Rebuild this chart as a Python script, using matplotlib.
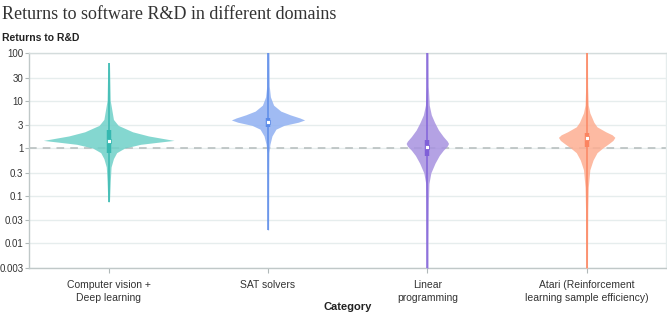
import matplotlib.pyplot as plt
import numpy as np

categories = ["Computer vision +\nDeep learning", "SAT solvers",
              "Linear\nprogramming", "Atari (Reinforcement\nlearning sample efficiency)"]
fill_colors = ["#6fd0c8", "#8fb0f2", "#a792e0", "#fdae92"]
line_colors = ["#36b8b0", "#5a8ae8", "#8060d8", "#fb8460"]

# violin outlines: returns value -> half width (category units)
cv_y = [63, 10, 4, 3, 2.2, 1.8, 1.55, 1.45, 1.35, 1.2, 1.0, 0.8, 0.6, 0.4, 0.2, 0.074]
cv_w = [0.005, 0.01, 0.03, 0.06, 0.15, 0.25, 0.36, 0.41, 0.33, 0.2, 0.1, 0.05, 0.03, 0.015, 0.01, 0.005]
sat_y = [150, 20, 12, 8, 6, 5, 4.3, 3.9, 3.5, 3.0, 2.5, 1.8, 1.2, 0.8, 0.3, 0.019]
sat_w = [0.006, 0.008, 0.015, 0.035, 0.08, 0.14, 0.2, 0.23, 0.19, 0.1, 0.05, 0.025, 0.012, 0.006, 0.005, 0.004]
lp_y = [150, 20, 8, 5, 3.5, 2.4, 1.75, 1.4, 1.25, 1.1, 0.9, 0.7, 0.48, 0.3, 0.18, 0.08, 0.01, 0.002]
lp_w = [0.005, 0.006, 0.012, 0.025, 0.045, 0.07, 0.1, 0.125, 0.133, 0.125, 0.1, 0.075, 0.048, 0.022, 0.01, 0.007, 0.005, 0.005]
atari_y = [150, 20, 8, 5.5, 4.6, 3.5, 2.8, 2.2, 1.9, 1.68, 1.45, 1.25, 1.0, 0.8, 0.56, 0.35, 0.15, 0.05, 0.002]
atari_w = [0.005, 0.006, 0.01, 0.02, 0.03, 0.045, 0.065, 0.12, 0.16, 0.177, 0.165, 0.14, 0.1, 0.065, 0.04, 0.02, 0.01, 0.007, 0.005]

medians = [1.43, 3.6, 1.07, 1.6]
q1 = [0.8, 2.8, 0.68, 1.07]
q3 = [2.4, 4.3, 1.47, 2.1]
ranges = [(0.074, 63), (0.019, 150), (0.002, 150), (0.002, 150)]

yticks = [0.003, 0.01, 0.03, 0.1, 0.3, 1, 3, 10, 30, 100]
ytick_labels = ["0.003", "0.01", "0.03", "0.1", "0.3", "1", "3", "10", "30", "100"]

plt.rcParams['font.family'] = ['Liberation Sans', 'DejaVu Sans']

fig = plt.figure(figsize=(6.67, 3.14), dpi=100)
ax = fig.add_axes([29 / 667, 1 - 268 / 314, 1 - 29 / 667 - 0.001, 215 / 314])

shapes = [(cv_y, cv_w), (sat_y, sat_w), (lp_y, lp_w), (atari_y, atari_w)]
for i, (ys, ws) in enumerate(shapes):
    ys = np.array(ys)
    ws = np.array(ws)
    ax.fill_betweenx(ys, i - ws, i + ws, color=fill_colors[i], alpha=0.85, lw=0, zorder=3)
    ax.plot([i, i], ranges[i], color=line_colors[i], lw=1.4, alpha=0.75, zorder=4,
            solid_capstyle='butt')
    ax.plot([i, i], [q1[i], q3[i]], color=line_colors[i], lw=3.2, zorder=5,
            solid_capstyle='butt')
    ax.scatter([i], [medians[i]], s=8, marker='s', color='white',
               edgecolor=line_colors[i], lw=0.6, zorder=6)

ax.axhline(1, color="#b4bcbc", lw=1.1, ls=(0, (5, 4)), zorder=2)

ax.set_yscale('log')
ax.set_ylim(0.003, 100)
ax.set_xlim(-0.5, 3.5)
ax.set_yticks(yticks)
ax.set_yticklabels(ytick_labels)
ax.minorticks_off()
ax.set_xticks(range(4))
ax.set_xticklabels(categories, linespacing=1.35)
ax.grid(axis='y', color="#e6eded", lw=1, zorder=0)
ax.set_axisbelow(True)

for s in ax.spines.values():
    s.set_color("#c0c8c8")
    s.set_linewidth(1)
ax.spines['top'].set_color("#d4dcdc")
ax.spines['right'].set_color("#e6eded")
ax.tick_params(axis='both', colors="#b0b8b8", labelcolor="#333333",
               labelsize=7.5, length=3.5, width=0.8)
ax.tick_params(axis='y', labelsize=7, length=3, pad=1)
ax.tick_params(axis='x', pad=5)

fig.text((29 / 667 + 1) / 2, 1 - 307 / 314, "Category", fontsize=8, fontweight='bold',
         color="#222222", ha='center', va='center')
fig.text(0.003, 0.953, "Returns to software R&D in different domains",
         family=['Liberation Serif'], fontsize=13, color="#333333", va='center')
fig.text(0.003, 0.878, "Returns to R&D", fontsize=7.5, fontweight='bold',
         color="#222222", va='center')

fig.savefig("out.png", dpi=100)
